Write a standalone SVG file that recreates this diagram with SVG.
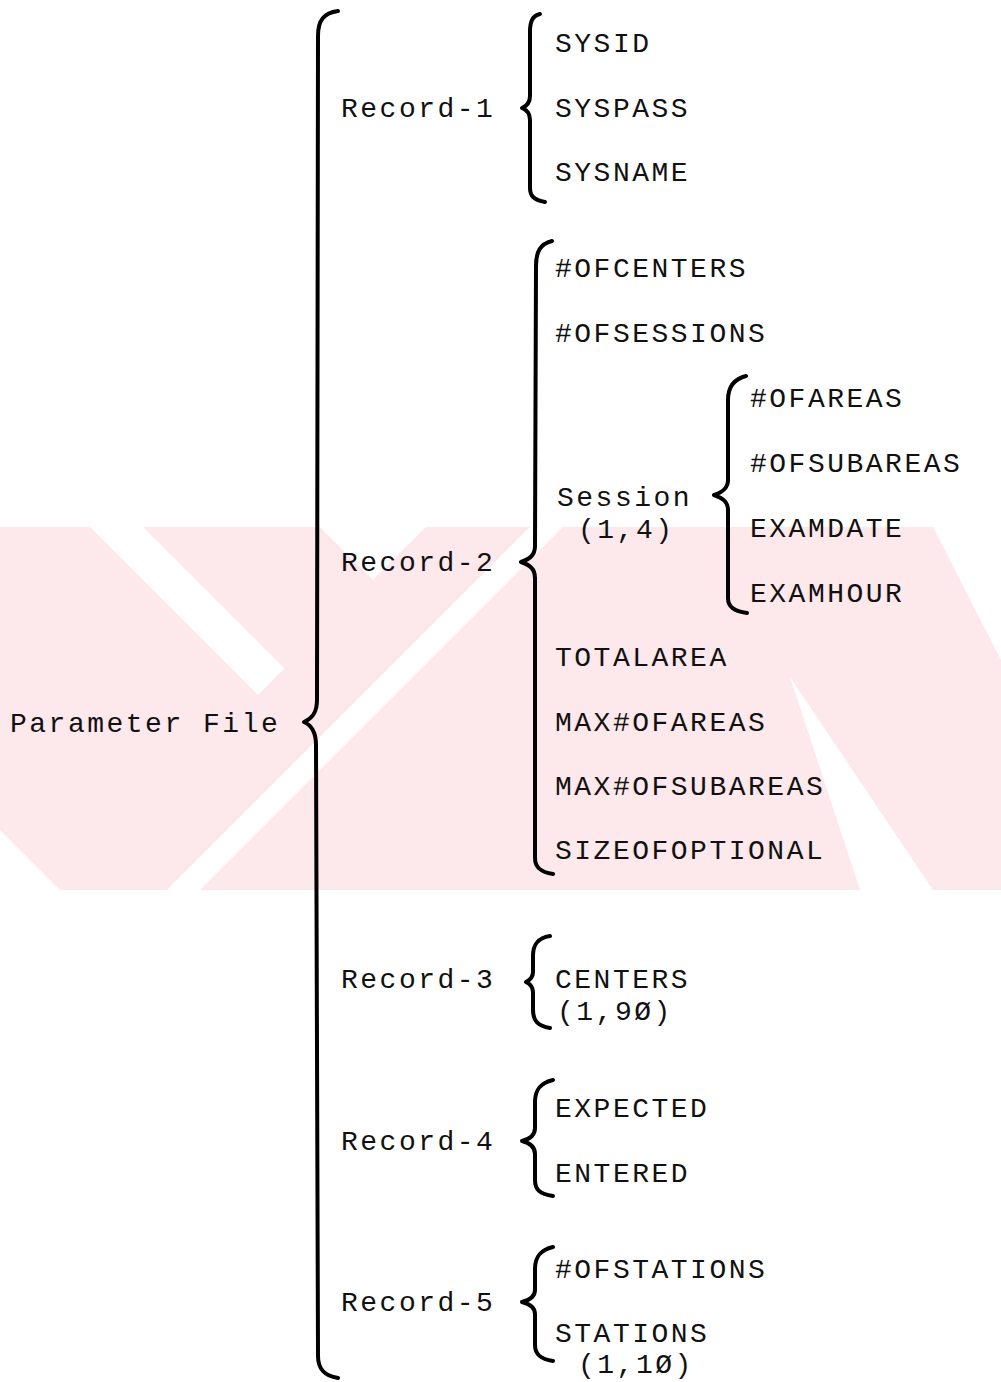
<svg xmlns="http://www.w3.org/2000/svg" width="1001" height="1382" viewBox="0 0 1001 1382">
  <style>
    .t { font-family: "Liberation Mono", "DejaVu Sans Mono", monospace; font-size: 28px; letter-spacing: 2.5px; fill: #111; }
    .brace { fill: none; stroke: #000; stroke-width: 4; stroke-linecap: round; stroke-linejoin: round; }
    .wm { fill: #fde8ec; }
    .gap { fill: #fff; }
  </style>
  <defs>
    <clipPath id="band"><rect x="0" y="527" width="1001" height="363"/></clipPath>
  </defs>

  <!-- faint background mark: crossed bands with white gaps -->
  <g id="watermark" clip-path="url(#band)">
    <polygon class="wm" points="-303,527 320,527 683,890 60,890"/>
    <polygon class="gap" points="90,527 143,527 506,890 453,890"/>
    <polygon class="wm" points="426,527 933,527 1001,660 1001,890 933,890 790,677 860,890 63,890"/>
    <polygon class="gap" points="530,527 563,527 200,890 167,890"/>
  </g>

  <!-- brackets joining each level to its parts -->
  <g id="connectors">
    <path class="brace" d="M338,11 C324,13 318,20 318,36 L317,700 C317,714 311,719 304,722 C311,725 316,731 316,745 L318,1356 C318,1370 325,1376 338,1378"/>
    <path class="brace" d="M540,14 C532,16 530,22 530,32 L530,96 C530,103 527,106 522,108 C527,110 530,113 530,120 L530,188 C530,196 534,200 545,202"/>
    <path class="brace" d="M552,241 C540,244 536,252 536,266 L535,546 C535,555 530,559 521,562 C530,565 535,569 535,578 L535,858 C535,867 540,872 553,874"/>
    <path class="brace" d="M746,376 C734,379 728,387 728,400 L728,480 C728,488 723,492 714,495 C723,498 728,502 728,510 L728,598 C728,607 734,611 747,613"/>
    <path class="brace" d="M550,936 C538,938 533,944 533,956 L533,972 C533,977 530,980 526,982 C530,984 533,987 533,992 L533,1010 C533,1021 538,1026 550,1028"/>
    <path class="brace" d="M553,1080 C540,1083 535,1090 535,1102 L535,1128 C535,1135 530,1139 522,1141 C530,1143 535,1147 535,1154 L535,1180 C535,1190 540,1194 553,1196"/>
    <path class="brace" d="M553,1247 C540,1250 535,1257 535,1269 L535,1290 C535,1297 530,1300 522,1302 C530,1304 535,1307 535,1314 L535,1345 C535,1354 540,1359 553,1361"/>
  </g>

  <g id="root"><text class="t" x="10" y="732">Parameter File</text></g>

  <g id="record-1"><text class="t" x="341" y="117">Record-1</text></g>
  <g id="sysid"><text class="t" x="555" y="52">SYSID</text></g>
  <g id="syspass"><text class="t" x="555" y="117">SYSPASS</text></g>
  <g id="sysname"><text class="t" x="555" y="181">SYSNAME</text></g>

  <g id="record-2"><text class="t" x="341" y="571">Record-2</text></g>
  <g id="ofcenters"><text class="t" x="555" y="277">#OFCENTERS</text></g>
  <g id="ofsessions"><text class="t" x="555" y="342">#OFSESSIONS</text></g>
  <g id="session"><text class="t" x="557" y="506">Session</text><text class="t" x="578" y="538">(1,4)</text></g>
  <g id="ofareas"><text class="t" x="750" y="407">#OFAREAS</text></g>
  <g id="ofsubareas"><text class="t" x="750" y="472">#OFSUBAREAS</text></g>
  <g id="examdate"><text class="t" x="750" y="537">EXAMDATE</text></g>
  <g id="examhour"><text class="t" x="750" y="602">EXAMHOUR</text></g>
  <g id="totalarea"><text class="t" x="555" y="666">TOTALAREA</text></g>
  <g id="maxofareas"><text class="t" x="555" y="731">MAX#OFAREAS</text></g>
  <g id="maxofsubareas"><text class="t" x="555" y="795">MAX#OFSUBAREAS</text></g>
  <g id="sizeofoptional"><text class="t" x="555" y="859">SIZEOFOPTIONAL</text></g>

  <g id="record-3"><text class="t" x="341" y="988">Record-3</text></g>
  <g id="centers"><text class="t" x="555" y="988">CENTERS</text><text class="t" x="557" y="1020">(1,9Ø)</text></g>

  <g id="record-4"><text class="t" x="341" y="1150">Record-4</text></g>
  <g id="expected"><text class="t" x="555" y="1117">EXPECTED</text></g>
  <g id="entered"><text class="t" x="555" y="1182">ENTERED</text></g>

  <g id="record-5"><text class="t" x="341" y="1311">Record-5</text></g>
  <g id="ofstations"><text class="t" x="555" y="1278">#OFSTATIONS</text></g>
  <g id="stations"><text class="t" x="555" y="1342">STATIONS</text><text class="t" x="578" y="1373">(1,1Ø)</text></g>
</svg>
